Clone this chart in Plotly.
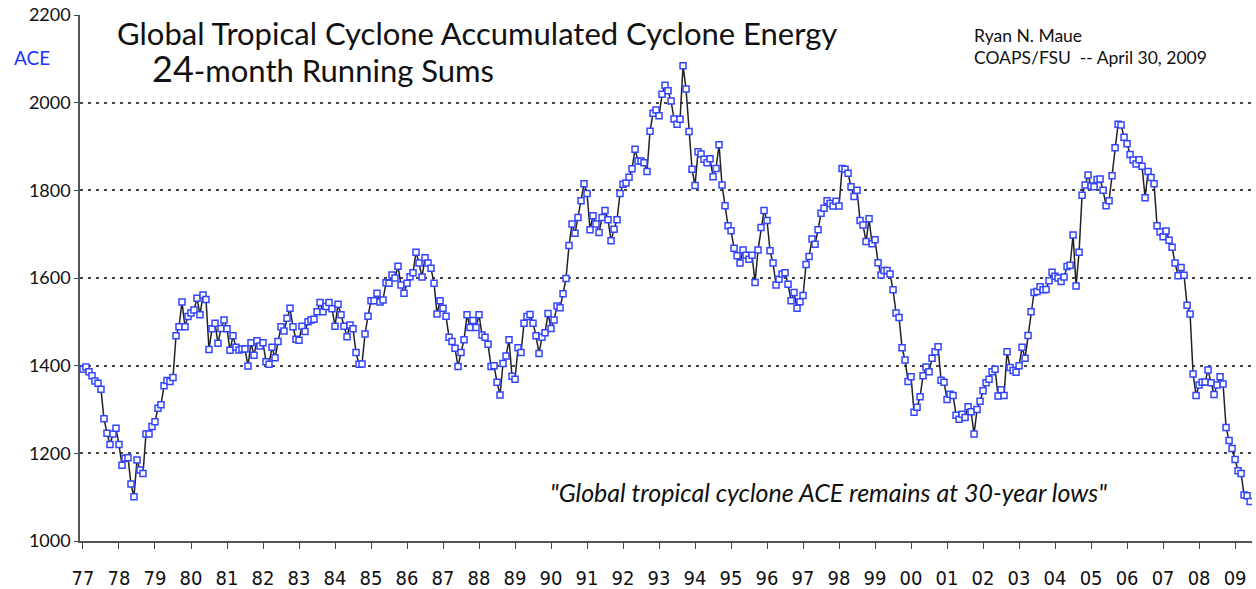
import plotly.graph_objects as go

START_YEAR = 1977

# 24-month running sums of global ACE, one value per month
ace_1977_1980 = [1392, 1397, 1386, 1377, 1365, 1360, 1346, 1279, 1246, 1220,
                 1244, 1257, 1220, 1173, 1189, 1190, 1130, 1101, 1185, 1162,
                 1154, 1244, 1244, 1261, 1272, 1303, 1311, 1354, 1366, 1364,
                 1373, 1468, 1489, 1545, 1489, 1512, 1520, 1527, 1554, 1516,
                 1561, 1551, 1437, 1484, 1497, 1451, 1485, 1504, 1484, 1435]
ace_1981_1984 = [1468, 1442, 1436, 1438, 1438, 1399, 1452, 1424, 1457, 1445,
                 1452, 1409, 1403, 1442, 1418, 1455, 1489, 1479, 1508, 1531,
                 1489, 1460, 1458, 1490, 1478, 1500, 1504, 1506, 1523, 1544,
                 1523, 1535, 1544, 1530, 1490, 1540, 1516, 1490, 1466, 1493,
                 1484, 1430, 1403, 1404]
ace_1984_1989 = [1472, 1513, 1548, 1548, 1565, 1545, 1550, 1589, 1588, 1607,
                 1600, 1627, 1584, 1565, 1588, 1603, 1612, 1659, 1634, 1602,
                 1646, 1634, 1622, 1588, 1518, 1548, 1531, 1513, 1465, 1455,
                 1440, 1398, 1430, 1459, 1516, 1487, 1503, 1487, 1516, 1470,
                 1465, 1449, 1398, 1400, 1362, 1333, 1405, 1422, 1459, 1376,
                 1369, 1441, 1430, 1497]
ace_1989_1992 = [1512, 1517, 1497, 1468, 1428, 1465, 1475, 1519, 1485, 1504,
                 1536, 1532, 1564, 1599, 1674, 1723, 1702, 1738, 1776, 1815,
                 1793, 1710, 1742, 1723, 1704, 1738, 1754, 1733, 1685, 1711,
                 1733, 1793, 1814, 1817, 1830, 1849, 1894, 1867, 1867, 1863,
                 1843, 1935, 1976, 1983]
ace_1993_1997 = [1970, 2019, 2040, 2027, 2004, 1963, 1951, 1962, 2084, 2031,
                 1934, 1848, 1811, 1888, 1883, 1871, 1863, 1872, 1831, 1850,
                 1904, 1812, 1765, 1719, 1708, 1668, 1651, 1634, 1664, 1652,
                 1643, 1652, 1590, 1664, 1715, 1754, 1731, 1662, 1634, 1584,
                 1597, 1609, 1612, 1586, 1548, 1567, 1531, 1546, 1560, 1631,
                 1649, 1689]
ace_1997_2001 = [1677, 1710, 1748, 1759, 1776, 1770, 1764, 1775, 1764, 1850,
                 1848, 1839, 1808, 1786, 1800, 1731, 1721, 1683, 1735, 1678,
                 1687, 1635, 1607, 1617, 1617, 1609, 1573, 1520, 1510, 1441,
                 1413, 1364, 1375, 1294, 1305, 1329, 1377, 1397, 1386, 1417,
                 1432, 1443, 1367, 1362, 1323, 1335]
ace_2001_2005 = [1332, 1287, 1278, 1289, 1282, 1306, 1295, 1244, 1300, 1319,
                 1343, 1361, 1369, 1386, 1392, 1331, 1345, 1332, 1432, 1396,
                 1389, 1385, 1400, 1442, 1417, 1469, 1523, 1567, 1569, 1580,
                 1573, 1574, 1594, 1613, 1604, 1600, 1592, 1602, 1626, 1629,
                 1698, 1582, 1659, 1789, 1812, 1835, 1810, 1808, 1825, 1826,
                 1800]
ace_2005_2009 = [1765, 1776, 1833, 1897, 1951, 1949, 1921, 1906, 1882, 1869,
                 1860, 1870, 1855, 1783, 1843, 1829, 1815, 1719, 1705, 1694,
                 1707, 1686, 1670, 1634, 1605, 1624, 1606, 1538, 1518, 1381,
                 1332, 1356, 1362, 1363, 1390, 1361, 1334, 1356, 1375, 1358,
                 1259, 1229, 1211, 1186, 1160, 1154, 1105, 1103, 1090]

year_ticks = list(range(1977, 2010))
year_labels = ["77", "78", "79", "80", "81", "82", "83", "84", "85", "86", "87",
               "88", "89", "90", "91", "92", "93", "94", "95", "96", "97", "98",
               "99", "00", "01", "02", "03", "04", "05", "06", "07", "08", "09"]
y_ticks = [1000, 1200, 1400, 1600, 1800, 2000, 2200]

ace = (ace_1977_1980 + ace_1981_1984 + ace_1984_1989 + ace_1989_1992 +
       ace_1993_1997 + ace_1997_2001 + ace_2001_2005 + ace_2005_2009)
dates = [START_YEAR + i / 12 for i in range(len(ace))]

MAIN_FONT = "Lato, 'Open Sans', sans-serif"
NARROW_FONT = "'Liberation Sans Narrow', 'DejaVu Sans Condensed', 'Roboto', sans-serif"

XR = [1976.917, 2009.47]

fig = go.Figure()
fig.add_trace(go.Scatter(
    x=dates, y=ace, mode="lines+markers",
    line=dict(color="#222222", width=1.5),
    marker=dict(symbol="square", size=6, color="white",
                line=dict(color="#3344ff", width=1.5)),
    showlegend=False, hoverinfo="skip"))

fig.update_layout(
    width=1256, height=589,
    margin=dict(l=80, r=4, t=15, b=48, autoexpand=False),
    paper_bgcolor="white", plot_bgcolor="white",
    xaxis=dict(range=XR, tickmode="array", tickvals=year_ticks, ticktext=year_labels,
               showgrid=False, zeroline=False, showline=True, linecolor="#555555",
               linewidth=2, ticks="outside", ticklen=6, tickwidth=1, tickcolor="#444444",
               tickfont=dict(family=NARROW_FONT, size=20, color="#111111"),
               ticklabelstandoff=12, automargin=False),
    xaxis2=dict(range=XR, overlaying="x", anchor="y", side="bottom",
                tickmode="array", tickvals=year_ticks, showticklabels=False,
                showgrid=False, zeroline=False, showline=False, automargin=False,
                ticks="inside", ticklen=6, tickwidth=1, tickcolor="#444444"),
    yaxis=dict(range=[1000, 2200], tickmode="array", tickvals=y_ticks,
               showgrid=True, gridcolor="#444444", griddash="3px,5px", gridwidth=2,
               zeroline=False, showline=True, linecolor="#555555", linewidth=1.5,
               ticks="outside", ticklen=4, tickcolor="#444444", automargin=False,
               tickfont=dict(family=MAIN_FONT, size=18, color="#111111")),
)

fig.add_annotation(text="ACE", xref="paper", yref="y", x=-0.041, y=2104,
                   xanchor="center", yanchor="middle", showarrow=False,
                   font=dict(family=MAIN_FONT, size=19, color="#2233ff"))
fig.add_annotation(text="Global Tropical Cyclone Accumulated Cyclone Energy",
                   xref="paper", yref="y", x=0.030, y=2159,
                   xanchor="left", yanchor="middle", showarrow=False,
                   font=dict(family=MAIN_FONT, size=31, color="#111111"))
fig.add_annotation(text="<span style='font-size:36px'>24</span>-month Running Sums",
                   xref="paper", yref="y", x=0.060, y=2078,
                   xanchor="left", yanchor="middle", showarrow=False,
                   font=dict(family=MAIN_FONT, size=31, color="#111111"))
fig.add_annotation(text="Ryan N. Maue", xref="paper", yref="y", x=0.761, y=2154,
                   xanchor="left", yanchor="middle", showarrow=False,
                   font=dict(family=MAIN_FONT, size=17.5, color="#111111"))
fig.add_annotation(text="COAPS/FSU&nbsp;&nbsp;-- April 30, 2009", xref="paper", yref="y",
                   x=0.761, y=2104, xanchor="left", yanchor="middle", showarrow=False,
                   font=dict(family=MAIN_FONT, size=17.5, color="#111111"))
fig.add_annotation(text="<i>\"Global tropical cyclone ACE remains at 30-year lows\"</i>",
                   xref="paper", yref="y", x=0.399, y=1112,
                   xanchor="left", yanchor="middle", showarrow=False,
                   font=dict(family=MAIN_FONT, size=25, color="#111111"))

fig.write_html("out.html", config={"displayModeBar": False},
               post_script="document.body.style.margin='0px';"
                           "document.body.style.overflow='hidden';")
